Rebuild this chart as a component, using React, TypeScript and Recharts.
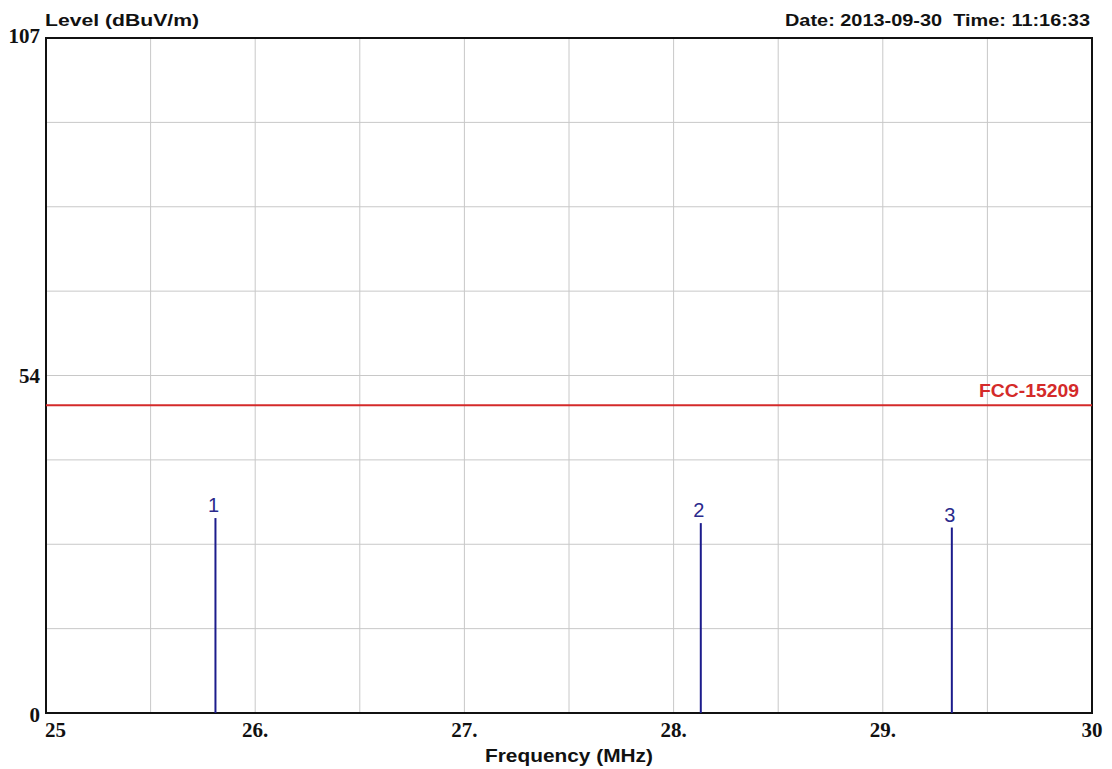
import {
  CartesianGrid,
  ComposedChart,
  ReferenceArea,
  ReferenceLine,
  Scatter,
  XAxis,
  YAxis,
} from 'recharts';

// frequency axis (MHz)
const freqTicks = [25, 25.5, 26, 26.5, 27, 27.5, 28, 28.5, 29, 29.5, 30];
const freqLabels: Record<number, string> = { 25: '25', 26: '26.', 27: '27.', 28: '28.', 29: '29.', 30: '30' };

// level axis (dBuV/m)
const levelTicks = [0, 13.375, 26.75, 40.125, 53.5, 66.875, 80.25, 93.625, 107];
const levelLabels: Record<number, string> = { 0: '0', 53.5: '54', 107: '107' };

// measured peaks
const markerNames = ['1', '2', '3'];
const markerFreqs = [25.81, 28.13, 29.33];
const markerLevels = [30.9, 30.1, 29.4];

// limit line
const limitName = 'FCC-15209';
const limitLevel = 48.8;

const markers = markerNames.map((name, i) => ({ name, freq: markerFreqs[i], level: markerLevels[i] }));

const sans = '"Liberation Sans", Arial, sans-serif';
const serif = '"Liberation Serif", "Times New Roman", serif';
const stemColor = '#1c1c8c';
const limitColor = '#d42a2a';

function FreqTick({ x, y, payload, index }: any) {
  const label = freqLabels[payload.value] ?? '';
  if (!label) return null;
  return (
    <text
      x={index === 0 ? x - 1 : x}
      y={y + 22}
      textAnchor={index === 0 ? 'start' : 'middle'}
      fontFamily={serif}
      fontWeight="bold"
      fontSize={21}
      fill="#111"
    >
      {label}
    </text>
  );
}

function LevelTick({ x, y, payload }: any) {
  const label = levelLabels[payload.value] ?? '';
  if (!label) return null;
  const dy = payload.value === 107 ? 5 : payload.value === 0 ? 9 : 7;
  return (
    <text x={x} y={y + dy} textAnchor="end" fontFamily={serif} fontWeight="bold" fontSize={21} fill="#111">
      {label}
    </text>
  );
}

function LimitLabel({ viewBox }: any) {
  if (!viewBox) return null;
  const right = viewBox.x + viewBox.width - 13;
  return (
    <text
      x={right}
      y={viewBox.y - 8}
      textAnchor="end"
      fontFamily={sans}
      fontWeight="bold"
      fontSize={18}
      fill={limitColor}
      textLength={100}
      lengthAdjust="spacingAndGlyphs"
    >
      {limitName}
    </text>
  );
}

function MarkerLabel({ cx, cy, payload }: any) {
  return (
    <text x={cx - 2} y={cy - 6} textAnchor="middle" fontFamily={sans} fontSize={20} fill="#2a2a8c">
      {payload.name}
    </text>
  );
}

export default function App() {
  return (
    <div style={{ position: 'absolute', left: 0, top: 0, width: 1112, height: 769, background: '#fff' }}>
      <ComposedChart width={1112} height={769} data={markers} margin={{ top: 38, right: 20, bottom: 26, left: 0 }}>
        <CartesianGrid stroke="#c8c8c8" strokeWidth={1} />
        <XAxis
          type="number"
          dataKey="freq"
          domain={[25, 30]}
          ticks={freqTicks}
          interval={0}
          tickLine={false}
          axisLine={false}
          tickSize={0}
          tickMargin={2}
          height={30}
          tick={<FreqTick />}
          allowDataOverflow
        />
        <YAxis
          type="number"
          domain={[0, 107]}
          ticks={levelTicks}
          interval={0}
          tickLine={false}
          axisLine={false}
          tickSize={0}
          tickMargin={6}
          width={46}
          tick={<LevelTick />}
          allowDataOverflow
        />
        <ReferenceLine y={limitLevel} stroke={limitColor} strokeWidth={2} label={<LimitLabel />} />
        {markers.map((m) => (
          <ReferenceLine
            key={m.name}
            segment={[
              { x: m.freq, y: 0 },
              { x: m.freq, y: m.level },
            ]}
            stroke={stemColor}
            strokeWidth={2}
          />
        ))}
        <Scatter dataKey="level" isAnimationActive={false} shape={<MarkerLabel />} legendType="none" />
        <ReferenceArea x1={25} x2={30} y1={0} y2={107} fill="none" stroke="#111" strokeWidth={2} />
      </ComposedChart>
      <svg
        width={1112}
        height={769}
        style={{ position: 'absolute', left: 0, top: 0, pointerEvents: 'none' }}
      >
        <text
          x={45}
          y={26}
          fontFamily={sans}
          fontWeight="bold"
          fontSize={17}
          fill="#111"
          textLength={154}
          lengthAdjust="spacingAndGlyphs"
        >
          Level (dBuV/m)
        </text>
        <text
          x={1090}
          y={26}
          textAnchor="end"
          fontFamily={sans}
          fontWeight="bold"
          fontSize={17}
          fill="#111"
          textLength={305}
          lengthAdjust="spacingAndGlyphs"
          style={{ whiteSpace: 'pre' }}
        >
          {'Date: 2013-09-30  Time: 11:16:33'}
        </text>
        <text
          x={569}
          y={762}
          textAnchor="middle"
          fontFamily={sans}
          fontWeight="bold"
          fontSize={18}
          fill="#111"
          textLength={168}
          lengthAdjust="spacingAndGlyphs"
        >
          Frequency (MHz)
        </text>
      </svg>
    </div>
  );
}
